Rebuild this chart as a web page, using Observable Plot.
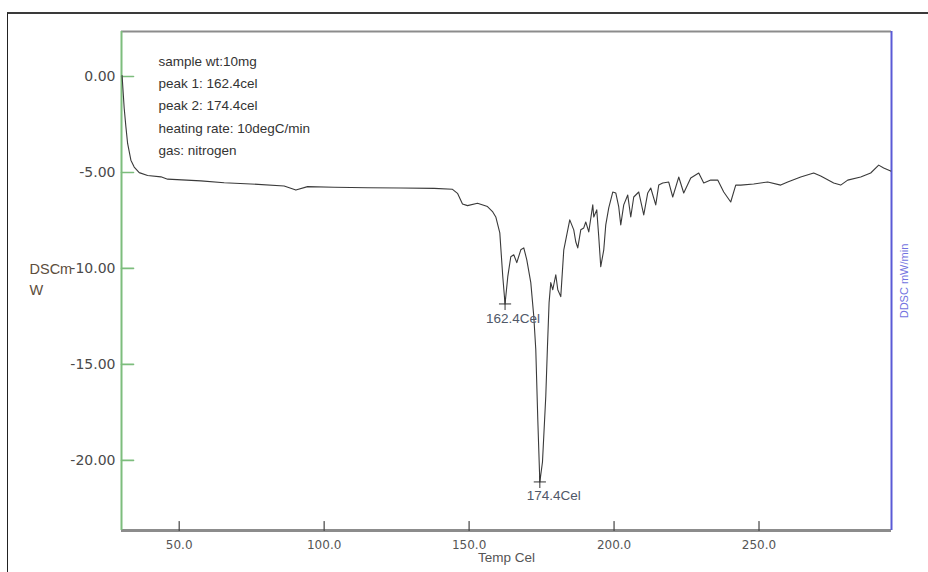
<!DOCTYPE html>
<html><head><meta charset="utf-8">
<script src="https://cdn.jsdelivr.net/npm/d3@7"></script>
<script src="https://cdn.jsdelivr.net/npm/@observablehq/plot@0.6"></script>
<style>
body{margin:0;background:#fff;}
#wrap{position:relative;width:928px;height:572px;overflow:hidden;background:#fff;}
#wrap svg{position:absolute;left:0;top:0;}
#frame{position:absolute;left:7px;top:12px;right:-4px;bottom:-4px;border-top:2px solid #3a3a3a;border-left:1.5px solid #222;pointer-events:none;}
</style></head><body><div id="wrap"><div id="frame"></div></div>
<script>
// Temperature (Cel) and DSC signal (mW)
const temperature = [30.3, 31.03, 31.62, 32.21, 33.34, 34.48, 36.21, 39.10, 43.69, 46.0,
  57.48, 65.52, 74.72, 86.21, 90.24, 94.28, 103.45, 114.97, 126.45, 137.93,
  144.28, 146.0, 147.72, 149.45, 152.90, 156.34, 158.17, 159.21, 160.59, 161.62,
  162.4, 163.34, 164.38, 165.41, 166.45, 167.83, 168.86, 169.9, 171.28, 172.31,
  173.0, 173.69, 174.4, 175.31, 176.45, 177.03, 177.59, 178.17, 178.86, 179.9,
  180.59, 181.62, 182.66, 183.69, 184.72, 186.10, 186.79, 187.48, 188.52, 189.55,
  190.24, 191.28, 192.66, 193.0, 194.03, 194.72, 195.41, 196.45, 197.14, 198.17,
  199.55, 200.59, 201.62, 202.31, 203.34, 204.72, 205.76, 206.79, 208.52, 210.24,
  211.62, 212.66, 214.38, 215.41, 216.79, 218.86, 220.24, 222.31, 224.03, 226.45,
  229.21, 230.93, 233.34, 235.76, 237.83, 240.24, 241.97, 243.69, 248.17, 253.0,
  257.48, 259.9, 264.38, 268.86, 271.28, 275.76, 278.17, 280.59, 285.07, 288.52,
  291.28, 293.0, 295.41];
const dsc = [0.05, -1.66, -2.63, -3.49, -4.36, -4.72, -5.01, -5.16, -5.23, -5.35,
  -5.44, -5.54, -5.60, -5.71, -5.92, -5.74, -5.77, -5.80, -5.81, -5.83,
  -5.88, -6.09, -6.64, -6.73, -6.61, -6.78, -7.06, -7.32, -8.15, -10.43,
  -11.85, -10.43, -9.39, -9.29, -9.70, -9.03, -8.93, -9.55, -10.74, -12.50,
  -14.22, -17.85, -21.12, -20.08, -16.66, -14.06, -11.78, -10.74, -11.11, -10.33,
  -11.11, -11.47, -9.03, -8.25, -7.47, -7.99, -8.61, -8.93, -7.99, -7.89,
  -7.58, -8.10, -6.69, -7.32, -6.95, -8.35, -9.91, -9.03, -7.73, -6.85,
  -6.02, -6.07, -6.80, -7.73, -6.69, -6.18, -7.32, -6.28, -6.02, -7.21,
  -6.07, -5.81, -6.69, -5.66, -5.55, -5.50, -6.28, -5.24, -6.07, -5.29,
  -5.03, -5.55, -5.40, -5.40, -6.02, -6.54, -5.66, -5.66, -5.60, -5.50,
  -5.66, -5.50, -5.24, -5.03, -5.19, -5.55, -5.66, -5.40, -5.24, -5.03,
  -4.62, -4.77, -4.93];
const peakTemps = [162.4, 174.4];
const peakValues = [-11.85, -21.12];
const annotationLines = ["sample wt:10mg", "peak 1: 162.4cel", "peak 2: 174.4cel", "heating rate: 10degC/min", "gas: nitrogen"];
const xTicks = [50, 100, 150, 200, 250];
const yTicks = [0, -5, -10, -15, -20];
const xDomain = [30.1, 295.7];
const yDomain = [-23.65, 2.34];
const xLabel = "Temp Cel";
const yLabel = "DSCm\nW";
const y2Label = "DDSC mW/min";

const rows = temperature.map((t, i) => ({t, v: dsc[i]}));
const peaks = peakTemps.map((t, i) => ({t, v: peakValues[i], label: `${t}Cel`}));

const spike = {draw(ctx, l) { ctx.moveTo(0, 0); ctx.lineTo(0, -l); }};
const sans = "'Liberation Sans', Arial, sans-serif";
const green = "#7dbd7d", blue = "#5a5ad6", gray = "#8c8c8c";

const chart = Plot.plot({
  width: 928, height: 572,
  marginLeft: 121, marginRight: 37, marginTop: 31, marginBottom: 42,
  style: {background: "transparent", fontFamily: sans, overflow: "visible"},
  x: {domain: xDomain},
  y: {domain: yDomain},
  marks: [
    Plot.ruleY([yDomain[1]], {stroke: gray, strokeWidth: 2}),
    Plot.ruleY([yDomain[0]], {stroke: gray, strokeWidth: 3}),
    Plot.ruleX([xDomain[0]], {stroke: green, strokeWidth: 2}),
    Plot.ruleX([xDomain[1]], {stroke: blue, strokeWidth: 2}),
    Plot.vector(yTicks, {x: xDomain[0], y: d => d, rotate: 90, length: 12, anchor: "start", shape: spike, stroke: green, strokeWidth: 1.6}),
    Plot.vector(xTicks, {x: d => d, y: yDomain[0], rotate: 0, length: 9, anchor: "start", shape: spike, stroke: "#444", strokeWidth: 1.2}),
    Plot.axisY(yTicks, {tickSize: 0, tickPadding: 6, tickFormat: d => d.toFixed(2), fontSize: 14, fontFamily: "'DejaVu Sans', sans-serif", fill: "#4a4a4a", label: null}),
    Plot.axisX(xTicks, {tickSize: 0, tickPadding: 10, tickFormat: d => d.toFixed(1), fontSize: 12, fontFamily: "'DejaVu Sans', sans-serif", fill: "#555", label: null}),
    Plot.text([xLabel], {frameAnchor: "bottom", dy: 31, fontSize: 13.5, fill: "#555"}),
    Plot.text([yLabel], {frameAnchor: "left", textAnchor: "start", dx: -92, dy: -3, lineHeight: 1.45, fontSize: 14.5, fill: "#5c4d3c"}),
    Plot.text([y2Label], {frameAnchor: "right", textAnchor: "middle", dx: 13, rotate: -90, fontSize: 11, fill: "#7272e0"}),
    Plot.text([annotationLines.join("\n")], {frameAnchor: "top-left", textAnchor: "start", lineAnchor: "top", dx: 37, dy: 18.5, lineHeight: 1.652, fontSize: 13.5, fill: "#333"}),
    Plot.line(rows, {x: "t", y: "v", stroke: "#3a3a3a", strokeWidth: 1.1}),
    Plot.dot(peaks, {x: "t", y: "v", symbol: "plus", r: 4, stroke: "#333", strokeWidth: 1}),
    Plot.text(peaks.slice(0, 1), {x: "t", y: "v", text: "label", dx: 8, dy: 15, fontSize: 13.5, fill: "#505868"}),
    Plot.text(peaks.slice(1), {x: "t", y: "v", text: "label", dx: 14, dy: 13.5, fontSize: 13.5, fill: "#505868"})
  ]
});
document.getElementById("wrap").insertBefore(chart, document.getElementById("frame"));
</script>
</body></html>
